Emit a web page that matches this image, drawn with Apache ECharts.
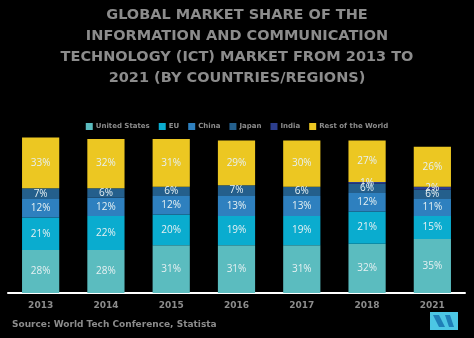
<!DOCTYPE html>
<html>
<head>
<meta charset="utf-8">
<script src="https://cdn.jsdelivr.net/npm/echarts@6/dist/echarts.min.js"></script>
<style>
html,body{margin:0;padding:0;background:#000;}
#chart{width:474px;height:338px;}
</style>
</head>
<body>
<div id="chart"></div>
<script>
// Market share (%) by region, stacked bottom to top
const years = ['2013', '2014', '2015', '2016', '2017', '2018', '2021'];
const unitedStates = [28, 28, 31, 31, 31, 32, 35];
const eu = [21, 22, 20, 19, 19, 21, 15];
const china = [12, 12, 12, 13, 13, 12, 11];
const japan = [7, 6, 6, 7, 6, 6, 6];
const india = [0, 0, 0, 0, 0, 1, 2];
const restOfWorld = [33, 32, 31, 29, 30, 27, 26];

const seriesDefs = [
  { name: 'United States', data: unitedStates, color: '#5bbcbf' },
  { name: 'EU', data: eu, color: '#0aaccf' },
  { name: 'China', data: china, color: '#2e80bf' },
  { name: 'Japan', data: japan, color: '#245f8c' },
  { name: 'India', data: india, color: '#2c3e8e' },
  { name: 'Rest of the World', data: restOfWorld, color: '#ecc722' }
];

const chart = echarts.init(document.getElementById('chart'));
chart.setOption({
  backgroundColor: '#000',
  animation: false,
  title: {
    text: 'GLOBAL MARKET SHARE OF THE\nINFORMATION AND COMMUNICATION\nTECHNOLOGY (ICT) MARKET FROM 2013 TO\n2021 (BY COUNTRIES/REGIONS)',
    left: 'center',
    top: 0,
    textStyle: {
      color: '#8c8c8c',
      fontFamily: 'DejaVu Sans',
      fontWeight: 'bold',
      fontSize: 14.5,
      lineHeight: 21
    }
  },
  legend: {
    top: 118,
    left: 'center',
    itemWidth: 7,
    itemHeight: 7,
    itemGap: 9,
    icon: 'rect',
    textStyle: { color: '#8c8c8c', fontSize: 7, fontWeight: 'bold', fontFamily: 'DejaVu Sans', padding: [0, 0, 0, -2] },
    data: seriesDefs.map(s => s.name)
  },
  grid: { left: 8, right: 9, top: 123.6, bottom: 45 },
  xAxis: {
    type: 'category',
    data: years,
    axisLine: { lineStyle: { color: '#ffffff', width: 2 } },
    axisTick: { show: false },
    axisLabel: { color: '#8c8c8c', fontSize: 9, fontWeight: 'bold', fontFamily: 'DejaVu Sans', margin: 8 }
  },
  yAxis: {
    type: 'value',
    min: 0,
    max: 110,
    show: false,
    splitLine: { show: false }
  },
  series: seriesDefs.map(s => ({
    name: s.name,
    type: 'bar',
    stack: 'share',
    barCategoryGap: '43%',
    data: s.data,
    itemStyle: { color: s.color },
    label: {
      show: true,
      position: 'inside',
      color: '#e6f0f2',
      fontSize: 10,
      fontFamily: 'Open Sans',
      formatter: p => (p.value > 0 ? p.value + '%' : '')
    }
  })),
  graphic: [
    {
      type: 'text',
      left: 12,
      top: 320,
      style: {
        text: 'Source: World Tech Conference, Statista',
        fill: '#8c8c8c',
        font: 'bold 9px "DejaVu Sans"'
      }
    },
    {
      type: 'group',
      left: 430,
      top: 312,
      children: [
        { type: 'rect', shape: { x: 0, y: 0, width: 28, height: 18 }, style: { fill: '#4cc6e4' } },
        { type: 'polygon', shape: { points: [[3, 3], [9, 3], [15, 15], [9, 15]] }, style: { fill: '#1f7fb8' } },
        { type: 'polygon', shape: { points: [[15, 3], [20, 3], [24, 15], [19, 15]] }, style: { fill: '#1f7fb8' } }
      ]
    }
  ]
});
</script>
</body>
</html>
